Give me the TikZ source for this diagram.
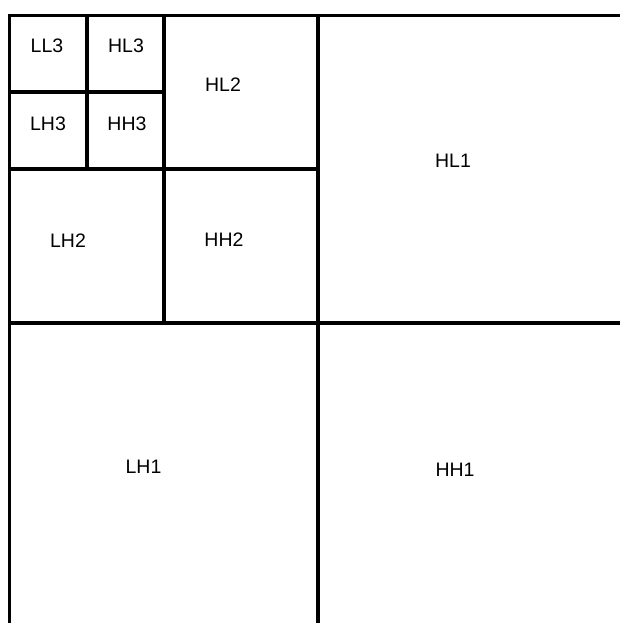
\documentclass[tikz,border=0pt]{standalone}
\usepackage{fontspec}
\setmainfont{Liberation Sans}
\begin{document}
\begin{tikzpicture}[x=1pt,y=-1pt,
  gridline/.style={line width=3.5pt,black},
  lbl/.style={font=\fontsize{19.5}{22}\selectfont,inner sep=0pt,anchor=center}]
\useasboundingbox[fill=white] (0,0) rectangle (620,623);
% outer frame (open at right and bottom)
\draw[gridline] (620,15.5) -- (9.5,15.5) -- (9.5,623);
% level 1
\draw[gridline] (318,15.5) -- (318,623);
\draw[gridline] (9.5,323) -- (620,323);
% level 2
\draw[gridline] (164,15.5) -- (164,323);
\draw[gridline] (9.5,169) -- (318,169);
% level 3
\draw[gridline] (87,15.5) -- (87,169);
\draw[gridline] (9.5,92) -- (164,92);
% labels
\node[lbl] (ll3) at (47,46) {LL3};
\node[lbl] (hl3) at (126,46) {HL3};
\node[lbl] (lh3) at (48,124) {LH3};
\node[lbl] (hh3) at (127,124) {HH3};
\node[lbl] (hl2) at (223,85) {HL2};
\node[lbl] (lh2) at (68,240.5) {LH2};
\node[lbl] (hh2) at (224,239.5) {HH2};
\node[lbl] (hl1) at (453,161) {HL1};
\node[lbl] (lh1) at (143.5,467) {LH1};
\node[lbl] (hh1) at (455,470) {HH1};
\end{tikzpicture}
\end{document}
